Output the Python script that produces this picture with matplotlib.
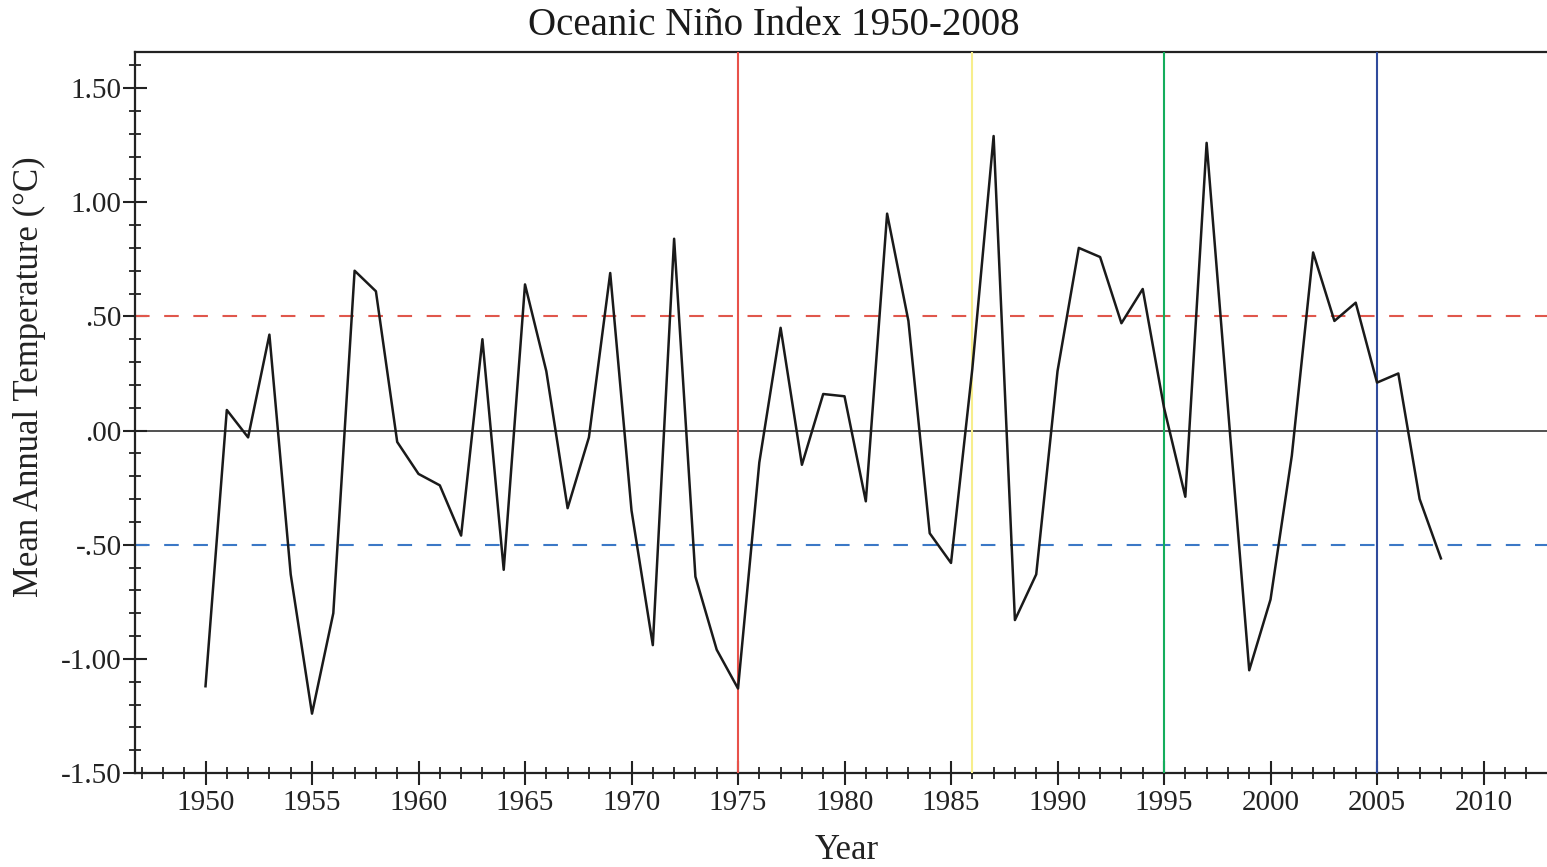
import numpy as np
import matplotlib
matplotlib.use("Agg")
import matplotlib.pyplot as plt
from matplotlib.ticker import MultipleLocator, FuncFormatter

###Data (annual mean ONI, degC)
years = list(range(1950, 2009))
oni = [-1.12, 0.09, -0.03, 0.42, -0.63, -1.24, -0.80, 0.70, 0.61, -0.05,
       -0.19, -0.24, -0.46, 0.40, -0.61, 0.64, 0.26, -0.34, -0.03, 0.69,
       -0.35, -0.94, 0.84, -0.64, -0.96, -1.13, -0.14, 0.45, -0.15, 0.16,
       0.15, -0.31, 0.95, 0.48, -0.45, -0.58, 0.27, 1.29, -0.83, -0.63,
       0.26, 0.80, 0.76, 0.47, 0.62, 0.10, -0.29, 1.26, 0.10, -1.05,
       -0.74, -0.11, 0.78, 0.48, 0.56, 0.21, 0.25, -0.30, -0.56]

###Reference lines
thresholds = [0.5, -0.5]
threshold_colors = ['#e0574c', '#3b78c6']
marker_years = [1975, 1986, 1995, 2005]
marker_colors = ['#e8524a', '#f7ee8c', '#14ad5c', '#2f4b9c']

title = 'Oceanic Ni\u00f1o Index 1950-2008'
xlab = 'Year'
ylab = 'Mean Annual Temperature (\u00b0C)'

plt.rcParams['font.family'] = ['Liberation Serif', 'DejaVu Serif']

fig = plt.figure(figsize=(15.47, 8.67), dpi=100)
ax = fig.add_axes([135/1547, 1 - 773/867, 1 - 135/1547, (773 - 52)/867])

axis_col = '#222222'

ax.axhline(0, color='#222222', lw=1.1, zorder=2)
for val, col in zip(thresholds, threshold_colors):
    ax.axhline(val, color=col, lw=1.5, dashes=(7, 7), zorder=2)
for yr, col in zip(marker_years, marker_colors):
    ax.axvline(yr, color=col, lw=1.5, zorder=3)

ax.plot(years, oni, color='#1a1a1a', lw=1.8, zorder=4)

ax.set_xlim(1946.69, 2012.98)
ax.set_ylim(-1.5, 1.658)

ax.xaxis.set_major_locator(MultipleLocator(5))
ax.xaxis.set_minor_locator(MultipleLocator(1))
ax.yaxis.set_major_locator(MultipleLocator(0.5))
ax.yaxis.set_minor_locator(MultipleLocator(0.1))

def yfmt(v, pos):
    s = '%.2f' % v
    if s.startswith('0'):
        s = s[1:]
    elif s.startswith('-0'):
        s = '-' + s[2:]
    return s

ax.yaxis.set_major_formatter(FuncFormatter(yfmt))
ax.xaxis.set_major_formatter(FuncFormatter(lambda v, p: '%d' % v))

ax.tick_params(which='major', direction='inout', length=17, width=1.5,
               color=axis_col, labelsize=21, labelcolor='#222222')
ax.tick_params(which='minor', direction='inout', length=9, width=1.3,
               color=axis_col)
ax.tick_params(axis='x', which='major', pad=4)
ax.tick_params(axis='y', which='major', pad=1)

for side in ['left', 'bottom', 'top']:
    ax.spines[side].set_color(axis_col)
    ax.spines[side].set_linewidth(1.6)
ax.spines['right'].set_visible(False)

ax.set_xlabel(xlab, fontsize=25, color='#222222')
ax.xaxis.set_label_coords(0.504, -0.107)
ax.set_ylabel(ylab, fontsize=25, color='#222222')
ax.yaxis.set_label_coords(-0.0744, 0.549)
ax.xaxis.label.set_va('center')
ax.yaxis.label.set_va('center')

fig.suptitle(title, x=0.5, y=0.971, va='center', fontsize=28, color='#1a1a1a')

fig.savefig('out.png', dpi=100)
